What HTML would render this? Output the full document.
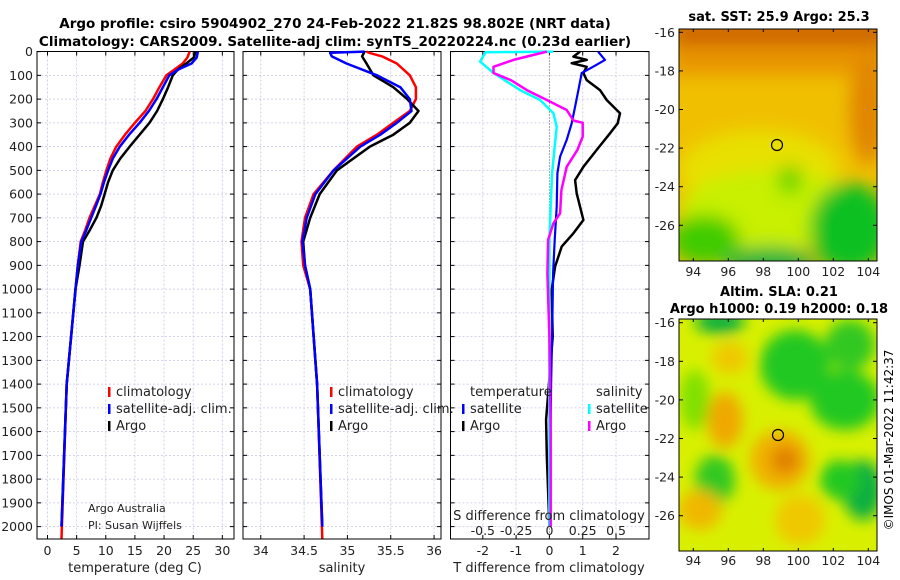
<!DOCTYPE html>
<html><head><meta charset="utf-8">
<style>
html,body{margin:0;padding:0;background:#fff;}
svg{display:block;font-family:"DejaVu Sans","Liberation Sans",sans-serif;}
</style></head>
<body>
<svg id="c" width="900" height="580" viewBox="0 0 900 580" xmlns="http://www.w3.org/2000/svg">
<defs>
<filter id="blur1" x="-50%" y="-50%" width="200%" height="200%"><feGaussianBlur stdDeviation="9"/></filter>
<filter id="blur2" x="-50%" y="-50%" width="200%" height="200%"><feGaussianBlur stdDeviation="7"/></filter>
<clipPath id="clipTop"><rect x="679" y="29" width="198" height="232"/></clipPath>
<clipPath id="clipBot"><rect x="679" y="319" width="198" height="232"/></clipPath>
</defs>
<text x="335" y="28" text-anchor="middle" font-size="13.5" font-weight="bold">Argo profile: csiro 5904902_270 24-Feb-2022 21.82S 98.802E (NRT data)</text>
<text x="335" y="46" text-anchor="middle" font-size="13.5" font-weight="bold">Climatology: CARS2009. Satellite-adj clim: synTS_20220224.nc (0.23d earlier)</text>

<!-- maps -->
<g clip-path="url(#clipTop)">
  <rect x="679" y="29" width="198" height="232" fill="#f0c000"/>
  <g filter="url(#blur1)">
    <rect x="670" y="20" width="220" height="28" fill="#cc6200"/>
    <rect x="670" y="45" width="220" height="30" fill="#e89400"/>
    <ellipse cx="868" cy="110" rx="18" ry="55" fill="#e08400"/>
    <ellipse cx="760" cy="170" rx="80" ry="40" fill="#e8e000"/>
    <ellipse cx="770" cy="210" rx="90" ry="40" fill="#c8f000"/>
    <ellipse cx="850" cy="228" rx="40" ry="45" fill="#10c020"/>
    <ellipse cx="705" cy="240" rx="35" ry="25" fill="#40cc00"/>
    <ellipse cx="770" cy="262" rx="45" ry="15" fill="#10b040"/>
    <ellipse cx="790" cy="180" rx="12" ry="15" fill="#60d400"/>
  </g>
</g>
<rect x="679" y="29" width="198" height="232" fill="none" stroke="#000"/>
<circle cx="777" cy="145" r="5.5" fill="none" stroke="#000" stroke-width="1.2"/>
<text x="779" y="21" text-anchor="middle" font-size="13" font-weight="bold">sat. SST: 25.9 Argo: 25.3</text>

<g clip-path="url(#clipBot)">
  <rect x="679" y="319" width="198" height="232" fill="#d8f000"/>
  <g filter="url(#blur2)">
    <ellipse cx="720" cy="322" rx="25" ry="12" fill="#10b040"/>
    <ellipse cx="795" cy="365" rx="35" ry="35" fill="#20c820"/>
    <ellipse cx="850" cy="345" rx="25" ry="25" fill="#30c820"/>
    <ellipse cx="845" cy="400" rx="35" ry="30" fill="#20c820"/>
    <ellipse cx="863" cy="490" rx="20" ry="30" fill="#10b040"/>
    <ellipse cx="840" cy="480" rx="20" ry="20" fill="#20c820"/>
    <ellipse cx="715" cy="480" rx="20" ry="25" fill="#30c820"/>
    <ellipse cx="695" cy="400" rx="15" ry="30" fill="#80e000"/>
    <ellipse cx="725" cy="420" rx="18" ry="28" fill="#f0a800"/>
    <ellipse cx="780" cy="460" rx="30" ry="30" fill="#f0b000"/>
    <ellipse cx="785" cy="460" rx="14" ry="14" fill="#e08000"/>
    <ellipse cx="700" cy="510" rx="22" ry="20" fill="#f0b800"/>
    <ellipse cx="800" cy="520" rx="25" ry="25" fill="#f0c800"/>
    <ellipse cx="730" cy="358" rx="18" ry="16" fill="#f0c800"/>
  </g>
</g>
<rect x="679" y="319" width="198" height="232" fill="none" stroke="#000"/>
<circle cx="778" cy="435" r="5.5" fill="none" stroke="#000" stroke-width="1.2"/>
<text x="779" y="296" text-anchor="middle" font-size="13" font-weight="bold">Altim. SLA: 0.21</text>
<text x="779" y="313" text-anchor="middle" font-size="13" font-weight="bold">Argo h1000: 0.19 h2000: 0.18</text>
<text transform="translate(893,440) rotate(-90)" text-anchor="middle" font-size="12">©IMOS 01-Mar-2022 11:42:37</text>
<g id="main"></g>
</svg>
<script>
// ---------- data ----------
const depthTicks = [0,100,200,300,400,500,600,700,800,900,1000,1100,1200,1300,1400,1500,1600,1700,1800,1900,2000];
const tempTicks = [0,5,10,15,20,25,30];
const salTicks = [34,34.5,35,35.5,36];
const diffTicks = [-2,-1,0,1,2];
const sdiffTicks = [-0.5,-0.25,0,0.25,0.5];
const sdiffLabels = ["-0.5","-0.25","0","0.25","0.5"];

const profDepth = [0,25,50,75,100,150,200,250,300,350,400,450,500,550,600,650,700,750,800,900,1000,1400,2000];
const tempClim = [24.4,24.0,23.2,21.8,20.4,19.2,18.1,16.8,15.0,13.3,11.8,10.8,10.1,9.5,9.0,8.1,7.2,6.5,5.7,5.2,4.8,3.3,2.4];
const tempSat  = [25.8,25.6,24.7,22.5,20.9,19.8,18.7,17.4,15.8,14.0,12.4,11.2,10.4,9.7,9.1,8.3,7.5,6.7,5.8,5.2,4.8,3.3,2.4];
const tempArgo = [25.4,25.1,23.8,22.4,21.5,20.7,19.8,18.8,17.5,15.8,14.1,12.5,11.2,10.4,9.8,9.2,8.4,7.3,6.1,5.5,4.8,3.3,2.4];

const salDepth = [0,5,20,50,100,150,200,250,300,350,400,500,600,700,800,900,1000,1400,2000];
const salClim = [35.22,35.25,35.40,35.57,35.72,35.79,35.79,35.72,35.53,35.34,35.11,34.84,34.61,34.51,34.47,34.49,34.57,34.65,34.71];
const salSat  = [35.20,34.80,34.82,34.99,35.34,35.61,35.72,35.74,35.57,35.38,35.15,34.84,34.63,34.53,34.48,34.51,34.57,34.65,34.71];
const salArgo = [35.20,35.19,35.17,35.22,35.30,35.53,35.69,35.82,35.72,35.53,35.26,34.88,34.68,34.57,34.49,34.51,34.57,34.65,34.71];

const dTDepth = [0,21,35,49,64,90,120,162,204,260,302,344,414,485,541,597,709,765,821,905,1003,1200,1550,1700,2000];
const dTArgo  = [0.92,0.72,1.12,0.67,1.12,1.02,1.12,1.52,1.72,2.12,2.05,1.82,1.42,1.02,0.77,0.82,1.02,0.72,0.37,0.17,0.07,0.10,-0.10,-0.08,0.0];
const dTSatDepth = [0,35,64,90,162,232,302,372,442,512,653,793,934,1200,1400,2000];
const dTSat = [1.46,1.67,1.31,0.97,0.87,0.77,0.67,0.52,0.32,0.24,0.22,0.16,0.11,0.08,0.05,0.0];
const dSSatDepth = [0,3,42,90,162,204,260,316,400,512,653,793,1200,2000];
const dSSat = [0.03,-0.48,-0.52,-0.42,-0.22,-0.07,0.03,0.055,0.04,0.02,0.01,0.0,0.0,0.0];
const dSArgoDepth = [0,35,64,90,120,162,204,246,290,300,358,414,485,583,681,723,793,934,1200,1600,2000];
const dSArgo = [-0.02,-0.27,-0.42,-0.42,-0.29,-0.17,-0.02,0.13,0.18,0.25,0.25,0.21,0.13,0.09,0.08,0.03,-0.01,-0.015,0.0,0.01,0.01];

const lonTicks = [94,96,98,100,102,104];
const latTicks = [-16,-18,-20,-22,-24,-26];

// ---------- helpers ----------
const NS = "http://www.w3.org/2000/svg";
const main = document.getElementById('main');
function mk(tag, attrs, parent){const e=document.createElementNS(NS,tag);for(const k in attrs)e.setAttribute(k,attrs[k]);(parent||main).appendChild(e);return e;}
const Y0=51.6, PXD=0.2375, YB=539;
function yD(d){return Y0 + d*PXD;}
const panels = [
  {x0:37,x1:234,vmin:-1.8,vmax:32.0,name:'temperature-panel'},
  {x0:243,x1:441,vmin:33.795,vmax:36.08,name:'salinity-panel'},
  {x0:450.5,x1:649,vmin:-2.97,vmax:2.99,name:'difference-panel'}
];
function xs(p){return v=>p.x0+(v-p.vmin)/(p.vmax-p.vmin)*(p.x1-p.x0);}
const xT=xs(panels[0]), xS=xs(panels[1]), xDf=xs(panels[2]);
function xSd(v){return xDf(v*4);}

panels.forEach((p,pi)=>{
  const g=mk('g',{});
  
  
  depthTicks.forEach(d=>{
    const l=mk('line',{x1:p.x0,x2:p.x1,y1:yD(d),y2:yD(d),stroke:'#c6c6e6','stroke-width':0.8,'stroke-dasharray':'2,2'},g);
    
    
    mk('line',{x1:p.x0,x2:p.x0+4,y1:yD(d),y2:yD(d),stroke:'#000'},g);
    mk('line',{x1:p.x1,x2:p.x1-4,y1:yD(d),y2:yD(d),stroke:'#000'},g);
  });
  const ticks=[tempTicks,salTicks,diffTicks][pi];
  const sc=[xT,xS,xDf][pi];
  ticks.forEach(v=>{
    const x=sc(v);
    if(!(pi===2&&v===0)){
      const l=mk('line',{x1:x,x2:x,y1:51.5,y2:YB,stroke:'#c6c6e6','stroke-width':0.8,'stroke-dasharray':'2,2'},g);
      
      
    }
    mk('line',{x1:x,x2:x,y1:YB,y2:YB-4,stroke:'#000'},g);
    mk('line',{x1:x,x2:x,y1:51.5,y2:55.5,stroke:'#000'},g);
    const t=mk('text',{x:x,y:555,'text-anchor':'middle','font-size':12.5,fill:'#222'},g);
    t.textContent=String(v);
    
    
  });
  const r=mk('rect',{x:p.x0,y:51.5,width:p.x1-p.x0,height:YB-51.5,fill:'none',stroke:'#000','stroke-width':1},g);
  
  
});
// zero line
const zl=mk('line',{x1:xDf(0),x2:xDf(0),y1:51.5,y2:YB,stroke:'#444','stroke-width':1,'stroke-dasharray':'1,2'});



// depth labels
depthTicks.forEach(d=>{
  const t=mk('text',{x:33,y:yD(d)+4.5,'text-anchor':'end','font-size':12.5,fill:'#222'});
  t.textContent=String(d);
  
  
});

function line(xsArr, ds, xf, color, w, name){
  const pts=xsArr.map((v,i)=>xf(v).toFixed(1)+','+yD(ds[i]).toFixed(1)).join(' ');
  const pl=mk('polyline',{points:pts,fill:'none',stroke:color,'stroke-width':w,'stroke-linejoin':'round'});
  
  
}
const tempClimD = profDepth.slice(); tempClimD[tempClimD.length-1]=2050;
line(tempClim, tempClimD, xT, '#ff0000', 2.5, 'temperature-climatology-line');
line(tempArgo, profDepth, xT, '#000000', 2.5, 'temperature-argo-line');
line(tempSat, profDepth, xT, '#0000ff', 2.5, 'temperature-satellite-line');
const salClimD = salDepth.slice(); salClimD[salClimD.length-1]=2050;
line(salClim, salClimD, xS, '#ff0000', 2.5, 'salinity-climatology-line');
line(salArgo, salDepth, xS, '#000000', 2.5, 'salinity-argo-line');
line(salSat, salDepth, xS, '#0000ff', 2.5, 'salinity-satellite-line');
line(dTArgo, dTDepth, xDf, '#000000', 2.5, 'temperature-argo-diff-line');
line(dTSat, dTSatDepth, xDf, '#0000ff', 2.2, 'temperature-satellite-diff-line');
line(dSSat, dSSatDepth, xSd, '#00ffff', 2.5, 'salinity-satellite-diff-line');
line(dSArgo, dSArgoDepth, xSd, '#ff00ff', 2.5, 'salinity-argo-diff-line');

// S tick labels
sdiffTicks.forEach((v,i)=>{
  const t=mk('text',{x:xSd(v),y:535,'text-anchor':'middle','font-size':12.5,fill:'#222'});
  t.textContent=sdiffLabels[i];
  
  
});
function txt(x,y,s,size,name,anchor,weight){
  const t=mk('text',{x:x,y:y,'font-size':size,'text-anchor':anchor||'start',fill:'#222','font-weight':weight||'normal'});
  t.textContent=s;
  
  
  return t;
}
txt(549,520,'S difference from climatology',13,'s-diff-axis-title','middle');
txt(135,572,'temperature (deg C)',13,'temperature-axis-title','middle');
txt(342,572,'salinity',13,'salinity-axis-title','middle');
txt(549,572,'T difference from climatology',13,'t-diff-axis-title','middle');
txt(88,512,'Argo Australia',11,'credit-argo-australia');
txt(88,529,'PI: Susan Wijffels',11,'credit-pi');

function legend(x,y,color,label,name){
  const r=mk('rect',{x:x,y:y-9,width:2.5,height:10,fill:color});
  
  
  txt(x+8,y,label,13,name);
}
legend(108,396,'#ff0000','climatology','temp-legend-climatology');
legend(108,413,'#0000ff','satellite-adj. clim.','temp-legend-satellite');
legend(108,430,'#000000','Argo','temp-legend-argo');
legend(330,396,'#ff0000','climatology','sal-legend-climatology');
legend(330,413,'#0000ff','satellite-adj. clim.','sal-legend-satellite');
legend(330,430,'#000000','Argo','sal-legend-argo');
txt(470,396,'temperature',13,'diff-legend-temperature-header');
legend(462,413,'#0000ff','satellite','diff-legend-t-satellite');
legend(462,430,'#000000','Argo','diff-legend-t-argo');
txt(596,396,'salinity',13,'diff-legend-salinity-header');
legend(588,413,'#00ffff','satellite','diff-legend-s-satellite');
legend(588,430,'#ff00ff','Argo','diff-legend-s-argo');

// map ticks
function lonX(l){return 693.3+(l-94)*17.5;}
[[29,261,32.3,272],[319,551,322.7,561]].forEach((m,mi)=>{
  const latY=l=>m[2]+(-16-l)*19.3;
  lonTicks.forEach(l=>{
    mk('line',{x1:lonX(l),x2:lonX(l),y1:m[1],y2:m[1]-3,stroke:'#000'});
    mk('line',{x1:lonX(l),x2:lonX(l),y1:m[0],y2:m[0]+3,stroke:'#000'});
    txt(lonX(l),m[3]+4,String(l),12.5,'map-lon-label','middle');
  });
  latTicks.forEach(l=>{
    mk('line',{x1:679,x2:683,y1:latY(l),y2:latY(l),stroke:'#000'});
    mk('line',{x1:877,x2:873,y1:latY(l),y2:latY(l),stroke:'#000'});
    txt(675,latY(l)+4.5,String(l),12.5,'map-lat-label','end');
  });
});
</script>
</body></html>
